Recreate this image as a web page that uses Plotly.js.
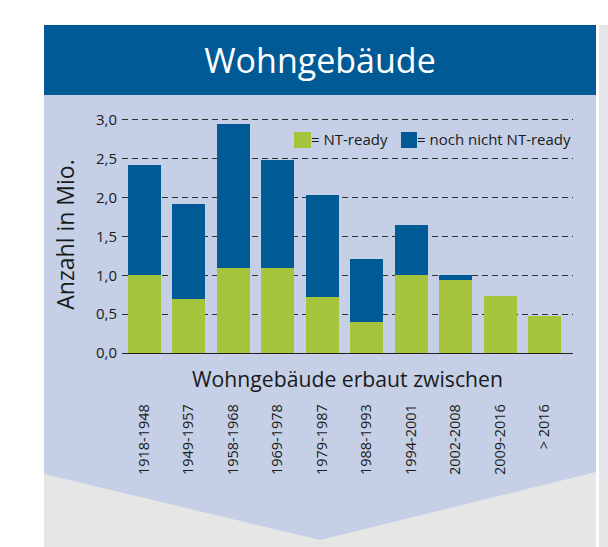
<!DOCTYPE html>
<html><head><meta charset="utf-8">
<script src="https://cdn.plot.ly/plotly-3.0.1.min.js"></script>
<style>html,body{margin:0;padding:0;background:#fff}</style>
</head><body><div id="chart" style="width:608px;height:547px"></div>
<script>
// ---- data ----
const categories = ['1918-1948','1949-1957','1958-1968','1969-1978','1979-1987','1988-1993','1994-2001','2002-2008','2009-2016','> 2016'];
const ntReady   = [1.00, 0.70, 1.10, 1.10, 0.72, 0.40, 1.00, 0.94, 0.74, 0.48];
const notReady  = [1.42, 1.22, 1.85, 1.38, 1.31, 0.81, 0.65, 0.06, 0.00, 0.00];
const yTickVals   = [0, 0.5, 1, 1.5, 2, 2.5, 3];
const yTickLabels = ['0,0','0,5','1,0','1,5','2,0','2,5','3,0'];
const legendNames = ['= NT-ready', '= noch nicht NT-ready'];

// ---- style ----
const W = 608, H = 547;
const M = {l:122, r:35, t:116, b:194};
const PW = W - M.l - M.r, PH = H - M.t - M.b;
const px = X => (X - M.l) / PW;
const py = Y => (H - M.b - Y) / PH;
const FONT = '"Open Sans", sans-serif';
const GREEN = '#a6c43b', BLUE = '#005a96', TXT = '#1a1a1a';
const PANEL = '#c5d0e6', GRAY = '#e6e6e6', HEADER = '#005a96';

const traces = [
  {type:'bar', x:categories, y:ntReady, name:legendNames[0], marker:{color:GREEN, line:{width:0}}, hoverinfo:'x+y'},
  {type:'bar', x:categories, y:notReady, name:legendNames[1], marker:{color:BLUE, line:{width:0}}, hoverinfo:'x+y'}
];

function rect(x0,y0,x1,y1,color){
  return {type:'rect', xref:'paper', yref:'paper', x0:px(x0), x1:px(x1), y0:py(y0), y1:py(y1),
          fillcolor:color, line:{width:0}, layer:'below'};
}
const panelPath = 'M'+px(44)+','+py(95)+' L'+px(596)+','+py(95)+' L'+px(596)+','+py(472)+
                  ' L'+px(320)+','+py(540)+' L'+px(44)+','+py(474)+' Z';

const layout = {
  width:W, height:H, margin:M,
  paper_bgcolor:'#ffffff', plot_bgcolor:'rgba(0,0,0,0)',
  barmode:'stack', bargap:0.26, showlegend:false,
  font:{family:FONT, color:TXT},
  title:{text:'Wohngebäude', font:{family:FONT, size:34, color:'#ffffff'},
         xref:'paper', x:px(320), xanchor:'center', yref:'container', y:1-61/H, yanchor:'middle'},
  xaxis:{type:'category', range:[-0.5, 9.64], showgrid:false, zeroline:false,
         showline:true, linecolor:'#222', linewidth:1.3, ticks:'',
         tickangle:-90, ticklabelstandoff:44, tickfont:{family:FONT, size:14.5, color:TXT},
         fixedrange:true},
  yaxis:{range:[0, 3.05], tickvals:yTickVals, ticktext:yTickLabels, showgrid:true,
         gridcolor:'#333', gridwidth:1, griddash:'6px,4px', zeroline:false, showline:false,
         ticks:'', ticklabelstandoff:4, tickfont:{family:FONT, size:15, color:TXT},
         title:{text:'Anzahl in Mio.', font:{family:FONT, size:23, color:TXT}, standoff:14},
         fixedrange:true},
  shapes:[
    rect(44,95,596,547,GRAY),
    rect(599,25,608,547,'#e6e6ea'),
    {type:'path', xref:'paper', yref:'paper', path:panelPath, fillcolor:PANEL, line:{width:0}, layer:'below'},
    rect(44,25,596,95,HEADER),
    rect(294,132,311,148,GREEN),
    rect(401,132,417,148,BLUE)
  ],
  annotations:[
    {xref:'paper', yref:'paper', x:px(347), y:py(378), text:'Wohngebäude erbaut zwischen', showarrow:false,
     xanchor:'center', yanchor:'middle', font:{family:FONT, size:21.2, color:TXT}},
    {xref:'paper', yref:'paper', x:px(311), y:py(139), text:legendNames[0], showarrow:false,
     xanchor:'left', yanchor:'middle', xshift:-2, font:{family:FONT, size:15, color:TXT}},
    {xref:'paper', yref:'paper', x:px(417), y:py(139), text:legendNames[1], showarrow:false,
     xanchor:'left', yanchor:'middle', xshift:-2, font:{family:FONT, size:15, color:TXT}}
  ]
};
Plotly.newPlot('chart', traces, layout, {displayModeBar:false, staticPlot:true});
</script></body></html>
